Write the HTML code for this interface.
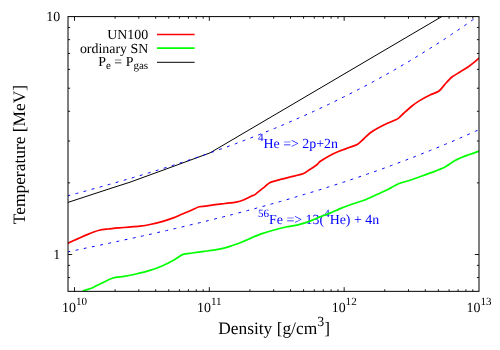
<!DOCTYPE html>
<html><head><meta charset="utf-8"><title>plot</title>
<style>
html,body{margin:0;padding:0;background:#fff;}
body{width:500px;height:350px;overflow:hidden;font-family:"Liberation Serif",serif;}
svg{display:block;will-change:transform;}
text{font-family:"Liberation Serif",serif;fill:#000;text-rendering:geometricPrecision;}
</style></head><body>
<svg width="500" height="350" viewBox="0 0 500 350">
<rect width="500" height="350" fill="#fff"/>
<defs><clipPath id="c"><rect x="68.0" y="16.6" width="411.0" height="274.75"/></clipPath></defs>
<!-- labels -->
<text x="258" y="147.6" font-size="13.9" style="fill:#00f"><tspan font-size="11.1" dy="-7">4</tspan><tspan dy="7">He =&gt; 2p+2n</tspan></text>
<text x="258" y="223.6" font-size="13.9" style="fill:#00f"><tspan font-size="11.1" dy="-7">56</tspan><tspan dy="7">Fe =&gt; 13(</tspan><tspan font-size="11.1" dy="-7">4</tspan><tspan dy="7">He) + 4n</tspan></text>
<g clip-path="url(#c)" fill="none" stroke-linejoin="round">
<path d="M67.00,243.60C67.12,243.54 66.67,243.69 68.00,243.10C69.33,242.51 75.20,239.96 77.60,238.90C80.00,237.84 84.50,235.67 87.20,234.60C89.90,233.53 96.60,231.00 99.20,230.30C101.80,229.60 105.50,229.30 108.00,229.00C110.50,228.70 116.60,228.14 119.20,227.90C121.80,227.66 126.20,227.32 128.80,227.10C131.40,226.88 137.35,226.42 140.00,226.10C142.65,225.78 147.25,225.06 150.00,224.50C152.75,223.94 159.00,222.46 162.00,221.60C165.00,220.74 171.75,218.42 174.00,217.60C176.25,216.78 178.05,215.82 180.00,215.00C181.95,214.18 187.20,212.04 189.60,211.00C192.00,209.96 197.20,207.30 199.20,206.70C201.20,206.10 203.60,206.46 205.60,206.20C207.60,205.94 212.80,204.94 215.20,204.60C217.60,204.26 222.20,203.80 224.80,203.50C227.40,203.20 233.60,202.66 236.00,202.20C238.40,201.74 242.00,200.60 244.00,199.80C246.00,199.00 250.62,196.45 252.00,195.80C253.38,195.15 253.62,195.55 255.00,194.60C256.38,193.65 261.10,189.70 263.00,188.20C264.90,186.70 268.20,183.64 270.20,182.60C272.20,181.56 276.50,180.60 279.00,179.90C281.50,179.20 287.20,177.76 290.20,177.00C293.20,176.24 300.60,174.70 303.00,173.80C305.40,172.90 307.70,170.90 309.40,169.80C311.10,168.70 315.28,166.04 316.60,165.00C317.93,163.96 318.32,162.70 320.00,161.50C321.68,160.30 327.55,156.71 330.00,155.40C332.45,154.09 337.20,151.99 339.60,151.00C342.00,150.01 347.00,148.30 349.20,147.50C351.40,146.70 355.40,145.66 357.20,144.60C359.00,143.54 362.00,140.45 363.60,139.00C365.20,137.55 368.20,134.38 370.00,133.00C371.80,131.62 375.75,129.25 378.00,128.00C380.25,126.75 385.50,124.17 388.00,123.00C390.50,121.83 396.00,119.85 398.00,118.60C400.00,117.35 402.25,114.58 404.00,113.00C405.75,111.42 410.00,107.58 412.00,106.00C414.00,104.42 417.75,101.78 420.00,100.40C422.25,99.03 427.62,96.17 430.00,95.00C432.38,93.83 437.00,92.50 439.00,91.00C441.00,89.50 444.38,84.75 446.00,83.00C447.62,81.25 450.25,78.38 452.00,77.00C453.75,75.62 458.00,73.25 460.00,72.00C462.00,70.75 466.25,68.20 468.00,67.00C469.75,65.80 472.50,63.62 474.00,62.40C475.50,61.17 479.25,57.85 480.00,57.20" stroke="#f00" stroke-width="1.7"/>
<path d="M83.00,291.40C83.12,291.30 82.88,291.03 84.00,290.60C85.12,290.18 89.75,288.95 92.00,288.00C94.25,287.05 99.38,284.25 102.00,283.00C104.62,281.75 110.25,278.82 113.00,278.00C115.75,277.18 121.12,276.90 124.00,276.40C126.88,275.90 132.75,274.75 136.00,274.00C139.25,273.25 146.75,271.40 150.00,270.40C153.25,269.40 159.00,267.30 162.00,266.00C165.00,264.70 171.38,261.45 174.00,260.00C176.62,258.55 180.75,255.28 183.00,254.40C185.25,253.53 189.38,253.38 192.00,253.00C194.62,252.62 200.75,251.85 204.00,251.40C207.25,250.95 214.75,250.03 218.00,249.40C221.25,248.78 227.00,247.33 230.00,246.40C233.00,245.47 239.25,243.10 242.00,242.00C244.75,240.90 249.50,238.65 252.00,237.60C254.50,236.55 259.25,234.55 262.00,233.60C264.75,232.65 271.00,230.82 274.00,230.00C277.00,229.18 283.00,227.64 286.00,227.00C289.00,226.36 295.00,225.64 298.00,224.90C301.00,224.16 307.25,222.10 310.00,221.10C312.75,220.10 317.50,217.90 320.00,216.90C322.50,215.90 327.25,214.22 330.00,213.10C332.75,211.97 339.00,209.10 342.00,207.90C345.00,206.70 351.00,204.55 354.00,203.50C357.00,202.45 363.00,200.68 366.00,199.50C369.00,198.32 375.25,195.35 378.00,194.10C380.75,192.85 385.50,190.76 388.00,189.50C390.50,188.24 395.25,185.16 398.00,184.00C400.75,182.84 407.00,181.20 410.00,180.20C413.00,179.20 419.25,176.97 422.00,176.00C424.75,175.03 429.25,173.45 432.00,172.40C434.75,171.35 441.00,169.15 444.00,167.60C447.00,166.05 453.00,161.57 456.00,160.00C459.00,158.43 465.00,156.15 468.00,155.00C471.00,153.85 478.50,151.33 480.00,150.80" stroke="#0f0" stroke-width="1.7"/>
<polyline points="67.0,202.7 68.0,202.4 110.0,188.6 130.0,182.2 170.0,167.6 210.0,152.9 441.0,17.0 444.4,15.0" stroke="#000" stroke-width="1"/>
<polyline points="67.4,195.9 70.4,195.1 73.4,194.3 76.4,193.5 79.4,192.7 82.4,191.9 85.4,191.1 88.4,190.2 91.4,189.4 94.4,188.6 97.4,187.8 100.4,186.9 103.4,186.1 106.4,185.2 109.4,184.4 112.4,183.6 115.4,182.7 118.4,181.8 121.4,181.0 124.4,180.1 127.4,179.2 130.4,178.4 133.4,177.5 136.4,176.6 139.4,175.7 142.4,174.8 145.4,173.9 148.4,173.0 151.4,172.1 154.4,171.2 157.4,170.2 160.4,169.3 163.4,168.4 166.4,167.4 169.4,166.5 172.4,165.5 175.4,164.5 178.4,163.6 181.4,162.6 184.4,161.6 187.4,160.6 190.4,159.6 193.4,158.6 196.4,157.6 199.4,156.6 202.4,155.6 205.4,154.5 208.4,153.5 211.4,152.4 214.4,151.4 217.4,150.3 220.4,149.2 223.4,148.2 226.4,147.1 229.4,146.0 232.4,144.9 235.4,143.8 238.4,142.6 241.4,141.5 244.4,140.4 247.4,139.2 250.4,138.1 253.4,136.9 256.4,135.7 259.4,134.5 262.4,133.3 265.4,132.1 268.4,130.9 271.4,129.7 274.4,128.5 277.4,127.2 280.4,126.0 283.4,124.7 286.4,123.4 289.4,122.1 292.4,120.8 295.4,119.5 298.4,118.2 301.4,116.9 304.4,115.6 307.4,114.2 310.4,112.9 313.4,111.5 316.4,110.1 319.4,108.7 322.4,107.3 325.4,105.9 328.4,104.5 331.4,103.0 334.4,101.6 337.4,100.1 340.4,98.6 343.4,97.1 346.4,95.6 349.4,94.1 352.4,92.6 355.4,91.1 358.4,89.5 361.4,87.9 364.4,86.4 367.4,84.8 370.4,83.2 373.4,81.6 376.4,79.9 379.4,78.3 382.4,76.6 385.4,74.9 388.4,73.3 391.4,71.6 394.4,69.9 397.4,68.1 400.4,66.4 403.4,64.6 406.4,62.9 409.4,61.1 412.4,59.3 415.4,57.5 418.4,55.6 421.4,53.8 424.4,51.9 427.4,50.1 430.4,48.2 433.4,46.3 436.4,44.4 439.4,42.4 442.4,40.5 445.4,38.5 448.4,36.5 451.4,34.5 454.4,32.5 457.4,30.5 460.4,28.4 463.4,26.4 466.4,24.3 469.4,22.2 472.4,20.1 475.4,18.0 478.4,15.8 481.4,13.7 484.4,11.5" stroke="#00f" stroke-width="1" stroke-dasharray="2.9 5.45" stroke-dashoffset="0"/>
<polyline points="67.4,252.0 70.4,251.3 73.4,250.7 76.4,250.1 79.4,249.5 82.4,248.9 85.4,248.2 88.4,247.6 91.4,247.0 94.4,246.3 97.4,245.7 100.4,245.1 103.4,244.4 106.4,243.8 109.4,243.2 112.4,242.5 115.4,241.9 118.4,241.2 121.4,240.6 124.4,239.9 127.4,239.3 130.4,238.6 133.4,238.0 136.4,237.3 139.4,236.7 142.4,236.0 145.4,235.3 148.4,234.7 151.4,234.0 154.4,233.3 157.4,232.6 160.4,231.9 163.4,231.3 166.4,230.6 169.4,229.9 172.4,229.2 175.4,228.5 178.4,227.8 181.4,227.1 184.4,226.4 187.4,225.7 190.4,224.9 193.4,224.2 196.4,223.5 199.4,222.8 202.4,222.0 205.4,221.3 208.4,220.6 211.4,219.8 214.4,219.1 217.4,218.3 220.4,217.6 223.4,216.8 226.4,216.0 229.4,215.3 232.4,214.5 235.4,213.7 238.4,212.9 241.4,212.2 244.4,211.4 247.4,210.6 250.4,209.8 253.4,209.0 256.4,208.2 259.4,207.3 262.4,206.5 265.4,205.7 268.4,204.9 271.4,204.0 274.4,203.2 277.4,202.3 280.4,201.5 283.4,200.6 286.4,199.8 289.4,198.9 292.4,198.0 295.4,197.1 298.4,196.2 301.4,195.3 304.4,194.4 307.4,193.5 310.4,192.6 313.4,191.7 316.4,190.8 319.4,189.9 322.4,188.9 325.4,188.0 328.4,187.0 331.4,186.1 334.4,185.1 337.4,184.1 340.4,183.2 343.4,182.2 346.4,181.2 349.4,180.2 352.4,179.2 355.4,178.2 358.4,177.2 361.4,176.1 364.4,175.1 367.4,174.1 370.4,173.0 373.4,172.0 376.4,170.9 379.4,169.8 382.4,168.8 385.4,167.7 388.4,166.6 391.4,165.5 394.4,164.4 397.4,163.3 400.4,162.1 403.4,161.0 406.4,159.9 409.4,158.7 412.4,157.6 415.4,156.4 418.4,155.2 421.4,154.0 424.4,152.8 427.4,151.7 430.4,150.4 433.4,149.2 436.4,148.0 439.4,146.8 442.4,145.5 445.4,144.3 448.4,143.0 451.4,141.8 454.4,140.5 457.4,139.2 460.4,137.9 463.4,136.6 466.4,135.3 469.4,133.9 472.4,132.6 475.4,131.3 478.4,129.9 481.4,128.6 484.4,127.2" stroke="#00f" stroke-width="1" stroke-dasharray="2.9 5.45" stroke-dashoffset="0"/>
</g>
<!-- frame + ticks -->
<rect x="68.0" y="16.6" width="411.0" height="274.75" fill="none" stroke="#000" stroke-width="1"/>
<path d="M74.50,291.35v-4.2M74.50,16.6v4.2M115.09,291.35v-2.1M115.09,16.6v2.1M138.83,291.35v-2.1M138.83,16.6v2.1M155.68,291.35v-2.1M155.68,16.6v2.1M168.74,291.35v-2.1M168.74,16.6v2.1M179.42,291.35v-2.1M179.42,16.6v2.1M188.44,291.35v-2.1M188.44,16.6v2.1M196.26,291.35v-2.1M196.26,16.6v2.1M203.16,291.35v-2.1M203.16,16.6v2.1M209.33,291.35v-4.2M209.33,16.6v4.2M249.92,291.35v-2.1M249.92,16.6v2.1M273.66,291.35v-2.1M273.66,16.6v2.1M290.51,291.35v-2.1M290.51,16.6v2.1M303.57,291.35v-2.1M303.57,16.6v2.1M314.25,291.35v-2.1M314.25,16.6v2.1M323.27,291.35v-2.1M323.27,16.6v2.1M331.09,291.35v-2.1M331.09,16.6v2.1M337.99,291.35v-2.1M337.99,16.6v2.1M344.16,291.35v-4.2M344.16,16.6v4.2M384.75,291.35v-2.1M384.75,16.6v2.1M408.49,291.35v-2.1M408.49,16.6v2.1M425.34,291.35v-2.1M425.34,16.6v2.1M438.40,291.35v-2.1M438.40,16.6v2.1M449.08,291.35v-2.1M449.08,16.6v2.1M458.10,291.35v-2.1M458.10,16.6v2.1M465.92,291.35v-2.1M465.92,16.6v2.1M472.82,291.35v-2.1M472.82,16.6v2.1M68.0,277.55h2.1M479.0,277.55h-2.1M68.0,265.39h2.1M479.0,265.39h-2.1M68.0,254.50h4.2M479.0,254.50h-4.2M68.0,182.88h2.1M479.0,182.88h-2.1M68.0,140.99h2.1M479.0,140.99h-2.1M68.0,111.27h2.1M479.0,111.27h-2.1M68.0,88.22h2.1M479.0,88.22h-2.1M68.0,69.38h2.1M479.0,69.38h-2.1M68.0,53.45h2.1M479.0,53.45h-2.1M68.0,39.65h2.1M479.0,39.65h-2.1M68.0,27.49h2.1M479.0,27.49h-2.1" stroke="#000" stroke-width="0.9" fill="none"/>
<!-- tick labels -->
<text x="74.5" y="311.6" text-anchor="middle" font-size="13.9">10<tspan font-size="11.1" dy="-7">10</tspan></text><text x="209.3" y="311.6" text-anchor="middle" font-size="13.9">10<tspan font-size="11.1" dy="-7">11</tspan></text><text x="344.2" y="311.6" text-anchor="middle" font-size="13.9">10<tspan font-size="11.1" dy="-7">12</tspan></text><text x="479.0" y="311.6" text-anchor="middle" font-size="13.9">10<tspan font-size="11.1" dy="-7">13</tspan></text>
<text x="60.2" y="21.4" text-anchor="end" font-size="13.9">10</text>
<text x="60.2" y="259.0" text-anchor="end" font-size="13.9">1</text>
<!-- legend -->
<text x="148.2" y="39" text-anchor="end" font-size="13.9">UN100</text>
<text x="148.2" y="52.5" text-anchor="end" font-size="13.9">ordinary SN</text>
<text x="148.2" y="65.6" text-anchor="end" font-size="13.9">P<tspan font-size="11.1" dy="3.6">e</tspan><tspan dy="-3.6"> = P</tspan><tspan font-size="11.1" dy="3.6">gas</tspan></text>
<path d="M157,34.5H194.6" stroke="#f00" stroke-width="1.7"/>
<path d="M157,48.1H194.6" stroke="#0f0" stroke-width="1.7"/>
<path d="M157,62.3H194.6" stroke="#000" stroke-width="1"/>
<!-- axis labels -->
<text x="218.2" y="334.2" font-size="17.4">Density [g/cm<tspan font-size="13.9" dy="-8.4">3</tspan><tspan dy="8.4">]</tspan></text>
<text transform="translate(25,224.2) rotate(-90)" font-size="17.4">Temperature [MeV]</text>
</svg>
</body></html>
